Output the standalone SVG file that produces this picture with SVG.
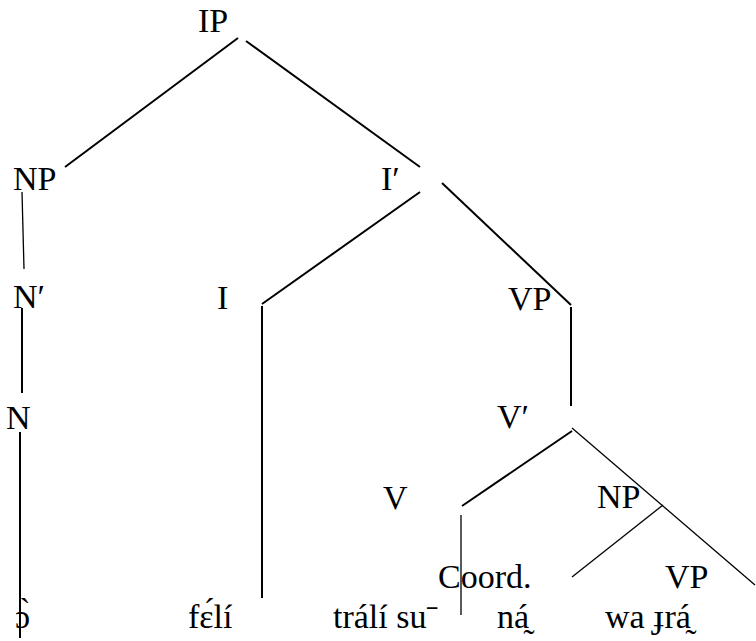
<svg xmlns="http://www.w3.org/2000/svg" width="756" height="641" viewBox="0 0 756 641">
<style>
text{font-family:"Liberation Serif","DejaVu Serif",serif;font-size:34px;fill:#000}
.e{stroke:#000;stroke-width:2;fill:none;stroke-linecap:butt}
.t{stroke:#000;stroke-width:1.3;fill:none}
</style>
<rect width="756" height="641" fill="#fff"/>
<g id="connectors">
<line class="e" x1="238" y1="38" x2="65" y2="167"/>
<line class="e" x1="246" y1="41" x2="420" y2="167"/>
<line class="t" x1="22" y1="192" x2="24" y2="269"/>
<line class="e" x1="22" y1="308" x2="22" y2="393"/>
<line class="e" x1="20" y1="432" x2="20" y2="638"/>
<line class="e" x1="420" y1="192" x2="262" y2="304"/>
<line class="e" x1="262" y1="306" x2="262" y2="598"/>
<line class="e" x1="442" y1="183" x2="571" y2="305"/>
<line class="e" x1="571" y1="307" x2="571" y2="406"/>
<line class="e" x1="572" y1="431" x2="462" y2="506"/>
<line class="t" x1="572" y1="428" x2="755" y2="585"/>
<line class="t" x1="663" y1="505" x2="572" y2="577"/>
<line class="t" x1="461" y1="515" x2="461" y2="615"/>
</g>
<g id="n-IP"><text x="198" y="32">IP</text></g>
<g id="n-NP1"><text x="13" y="190">NP</text></g>
<g id="n-Ibar"><text x="381" y="190">I′</text></g>
<g id="n-Nbar"><text x="13" y="308">N′</text></g>
<g id="n-I"><text x="217" y="309">I</text></g>
<g id="n-VP1"><text x="508" y="310">VP</text></g>
<g id="n-N"><text x="6" y="429">N</text></g>
<g id="n-Vbar"><text x="497" y="428">V′</text></g>
<g id="n-V"><text x="383" y="509">V</text></g>
<g id="n-NP2"><text x="597" y="508">NP</text></g>
<g id="n-Coord"><text x="438" y="588">Coord.</text></g>
<g id="n-VP2"><text x="665" y="588">VP</text></g>
<g id="w1"><text x="15" y="628">ɔ̀</text></g>
<g id="w2"><text x="188" y="628">fɛ́lí</text></g>
<g id="w3"><text x="333" y="628">trálí suˉ</text></g>
<g id="w4"><text x="497" y="628">ná̰</text></g>
<g id="w5"><text x="605" y="628">wa ɟrá̰</text></g>
</svg>
